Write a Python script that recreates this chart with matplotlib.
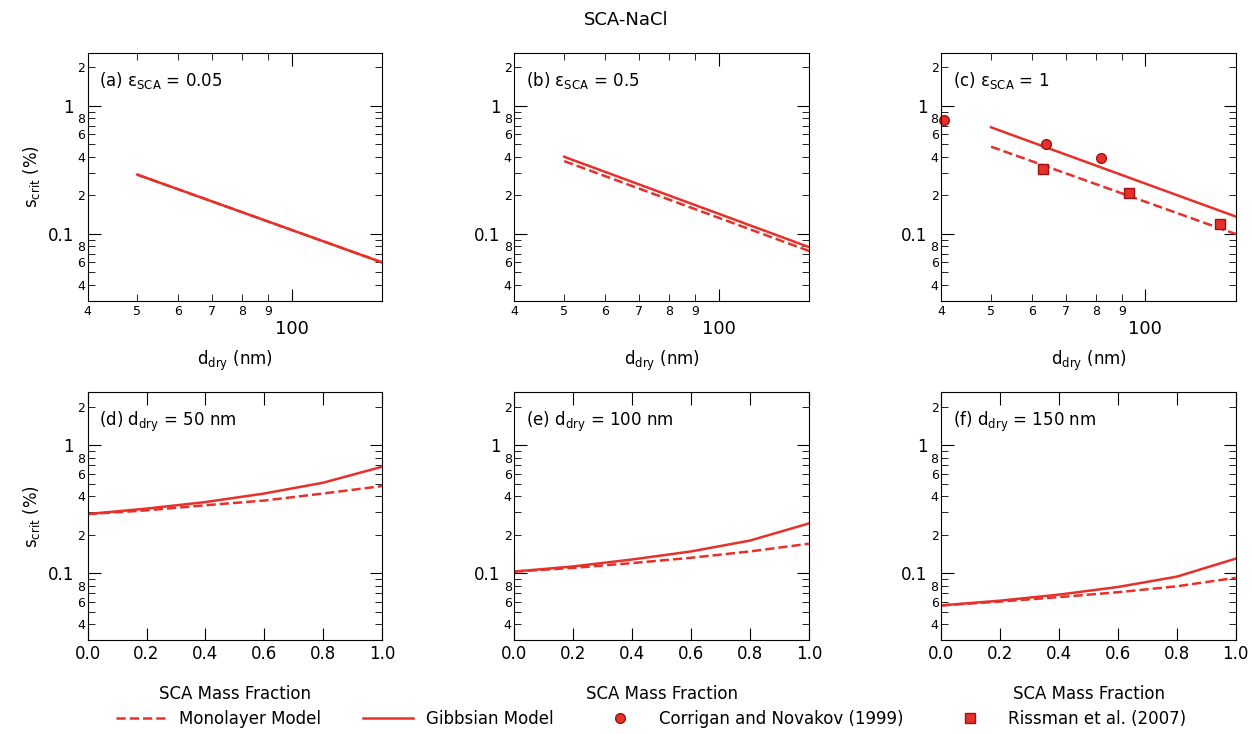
import numpy as np
import matplotlib.pyplot as plt
from matplotlib.ticker import FixedLocator, FixedFormatter
from matplotlib.lines import Line2D

RED = "#e8302a"

# top row: s_crit vs d_dry
d_dry = [50, 155]
gibbs_a = [0.29, 0.057]
mono_a = [0.29, 0.057]
gibbs_b = [0.40, 0.075]
mono_b = [0.37, 0.070]
gibbs_c = [0.68, 0.13]
mono_c = [0.48, 0.095]
corrigan_d = [40.5, 64, 82]
corrigan_s = [0.78, 0.50, 0.39]
rissman_d = [63, 93, 140]
rissman_s = [0.32, 0.21, 0.12]

# bottom row: s_crit vs SCA mass fraction
frac = [0.0, 0.2, 0.4, 0.6, 0.8, 1.0]
gibbs_d = [0.29, 0.32, 0.36, 0.42, 0.51, 0.68]
mono_d = [0.29, 0.31, 0.34, 0.37, 0.42, 0.48]
gibbs_e = [0.103, 0.113, 0.128, 0.148, 0.18, 0.245]
mono_e = [0.103, 0.11, 0.12, 0.132, 0.148, 0.17]
gibbs_f = [0.056, 0.061, 0.068, 0.078, 0.094, 0.13]
mono_f = [0.056, 0.06, 0.065, 0.071, 0.079, 0.092]

fig, axes = plt.subplots(2, 3, figsize=(12.52, 7.34), dpi=100)
fig.subplots_adjust(left=0.07, right=0.987, top=0.928, bottom=0.128, wspace=0.45, hspace=0.37)
fig.suptitle("SCA-NaCl", fontsize=13, y=0.985)

ymaj = [0.1, 1]
ymin = [0.03, 0.04, 0.05, 0.06, 0.07, 0.08, 0.09, 0.2, 0.3, 0.4, 0.5, 0.6, 0.7, 0.8, 0.9, 2]
ymin_lab = ["", "4", "", "6", "", "8", "", "2", "", "4", "", "6", "", "8", "", "2"]

def style_y(ax):
    ax.set_yscale("log")
    ax.set_ylim(0.03, 2.6)
    ax.yaxis.set_major_locator(FixedLocator(ymaj))
    ax.yaxis.set_major_formatter(FixedFormatter(["0.1", "1"]))
    ax.yaxis.set_minor_locator(FixedLocator(ymin))
    ax.yaxis.set_minor_formatter(FixedFormatter(ymin_lab))
    ax.tick_params(axis="y", which="major", labelsize=12, length=9, pad=10)
    ax.tick_params(axis="y", which="minor", labelsize=9, length=5, pad=2)
    ax.tick_params(which="both", direction="in", top=True, right=True)

top = [(gibbs_a, mono_a, "(a) ε$_{\\mathrm{SCA}}$ = 0.05"),
       (gibbs_b, mono_b, "(b) ε$_{\\mathrm{SCA}}$ = 0.5"),
       (gibbs_c, mono_c, "(c) ε$_{\\mathrm{SCA}}$ = 1")]
for i, (g, m, lab) in enumerate(top):
    ax = axes[0, i]
    ax.plot(d_dry, m, "--", color=RED, lw=1.8)
    ax.plot(d_dry, g, "-", color=RED, lw=1.8)
    if i == 2:
        ax.plot(corrigan_d, corrigan_s, "o", color=RED, mec="#a01010", ms=7, clip_on=False)
        ax.plot(rissman_d, rissman_s, "s", color=RED, mec="#a01010", ms=7)
    ax.set_xscale("log")
    ax.set_xlim(40, 150)
    ax.xaxis.set_major_locator(FixedLocator([100]))
    ax.xaxis.set_major_formatter(FixedFormatter(["100"]))
    ax.xaxis.set_minor_locator(FixedLocator([40, 50, 60, 70, 80, 90]))
    ax.xaxis.set_minor_formatter(FixedFormatter(["4", "5", "6", "7", "8", "9"]))
    ax.tick_params(axis="x", which="major", labelsize=13, length=9, pad=14)
    ax.tick_params(axis="x", which="minor", labelsize=9, length=5)
    style_y(ax)
    ax.set_xlabel("$\\mathrm{d_{dry}}$ (nm)", fontsize=12, labelpad=8)
    ax.text(0.04, 0.93, lab, transform=ax.transAxes, fontsize=12, va="top")

bot = [(gibbs_d, mono_d, "(d) $\\mathrm{d_{dry}}$ = 50 nm"),
       (gibbs_e, mono_e, "(e) $\\mathrm{d_{dry}}$ = 100 nm"),
       (gibbs_f, mono_f, "(f) $\\mathrm{d_{dry}}$ = 150 nm")]
for i, (g, m, lab) in enumerate(bot):
    ax = axes[1, i]
    xs = np.linspace(0, 1, 101)
    ax.plot(xs, np.exp(np.interp(xs, frac, np.log(m))), "--", color=RED, lw=1.8)
    ax.plot(xs, np.exp(np.interp(xs, frac, np.log(g))), "-", color=RED, lw=1.8)
    ax.set_xlim(0, 1)
    ax.set_xticks([0, 0.2, 0.4, 0.6, 0.8, 1.0])
    ax.set_xticklabels(["0.0", "0.2", "0.4", "0.6", "0.8", "1.0"])
    ax.tick_params(axis="x", labelsize=12, length=9)
    style_y(ax)
    ax.set_xlabel("SCA Mass Fraction", fontsize=12, labelpad=16)
    ax.text(0.04, 0.93, lab, transform=ax.transAxes, fontsize=12, va="top")

for r in range(2):
    axes[r, 0].set_ylabel("$\\mathrm{s_{crit}}$ (%)", fontsize=12)

handles = [Line2D([], [], color=RED, ls="--", lw=1.8),
           Line2D([], [], color=RED, ls="-", lw=1.8),
           Line2D([], [], color=RED, marker="o", ls="", mec="#a01010", ms=7),
           Line2D([], [], color=RED, marker="s", ls="", mec="#a01010", ms=7)]
fig.legend(handles, ["Monolayer Model", "Gibbsian Model", "Corrigan and Novakov (1999)", "Rissman et al. (2007)"],
           loc="lower center", ncol=4, frameon=False, fontsize=12, bbox_to_anchor=(0.52, -0.012),
           columnspacing=2.5, handlelength=3)

fig.savefig("out.png")
